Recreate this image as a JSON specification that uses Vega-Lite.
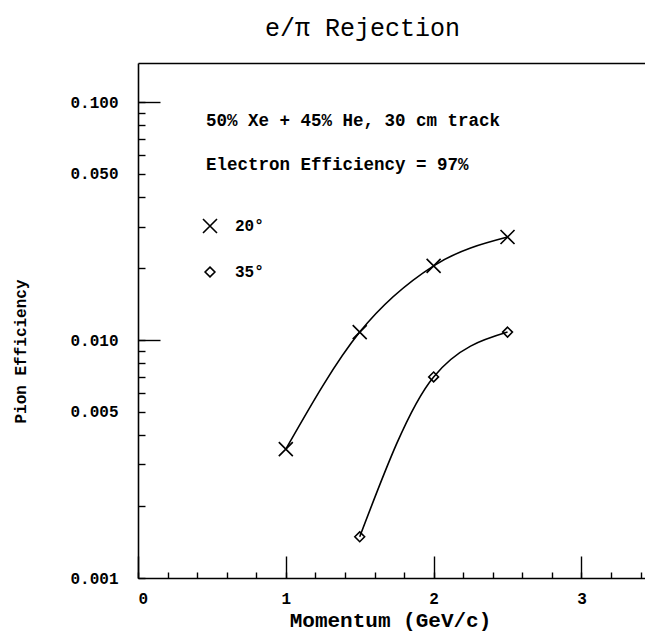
{
  "$schema": "https://vega.github.io/schema/vega-lite/v6.json",
  "width": 507,
  "height": 515,
  "autosize": {"type": "none"},
  "padding": {"left": 138, "top": 63, "right": 0, "bottom": 55},
  "title": {
    "text": "e/π Rejection",
    "font": "Liberation Mono",
    "fontSize": 25,
    "fontWeight": "normal",
    "color": "black",
    "anchor": "start",
    "frame": "group",
    "dx": 127,
    "baseline": "alphabetic",
    "offset": 2
  },
  "config": {
    "view": {"stroke": null},
    "font": "Liberation Mono",
    "axis": {
      "grid": false,
      "domainColor": "black",
      "domainWidth": 1.6,
      "tickColor": "black",
      "tickWidth": 1.4,
      "labelColor": "black",
      "titleColor": "black",
      "labelFont": "Liberation Mono",
      "titleFont": "Liberation Mono",
      "labelFontSize": 16,
      "labelFontWeight": "bold",
      "titleFontSize": 16,
      "titleFontWeight": "bold"
    }
  },
  "resolve": {"axis": {"x": "independent", "y": "independent"}},
  "layer": [
    {
      "data": {
        "values": [
          {"angle": "20°", "p": 1.0, "eff": 0.00348},
          {"angle": "20°", "p": 1.5, "eff": 0.0108},
          {"angle": "20°", "p": 2.0, "eff": 0.0205},
          {"angle": "20°", "p": 2.5, "eff": 0.0271},
          {"angle": "35°", "p": 1.5, "eff": 0.00149},
          {"angle": "35°", "p": 2.0, "eff": 0.0070},
          {"angle": "35°", "p": 2.5, "eff": 0.0108}
        ]
      },
      "mark": {"type": "line", "interpolate": "monotone", "color": "black", "strokeWidth": 1.6},
      "encoding": {
        "x": {
          "field": "p",
          "type": "quantitative",
          "scale": {"domain": [0, 3.43], "nice": false, "zero": false},
          "axis": {
            "orient": "bottom",
            "values": [0, 0.2, 0.4, 0.6, 0.8, 1, 1.2, 1.4, 1.6, 1.8, 2, 2.2, 2.4, 2.6, 2.8, 3, 3.2, 3.4],
            "tickSize": -6,
            "labelPadding": 18,
            "labelExpr": "datum.value % 1 == 0 ? format(datum.value, 'd') : ''",
            "title": "Momentum (GeV/c)",
            "titleFontSize": 21,
            "titleX": 252,
            "titleY": 42,
            "titleBaseline": "middle",
            "titleAlign": "center"
          }
        },
        "y": {
          "field": "eff",
          "type": "quantitative",
          "scale": {"type": "log", "domain": [0.001, 0.146], "nice": false},
          "axis": {
            "orient": "left",
            "values": [0.001, 0.002, 0.003, 0.004, 0.005, 0.006, 0.007, 0.008, 0.009, 0.01, 0.02, 0.03, 0.04, 0.05, 0.06, 0.07, 0.08, 0.09, 0.1],
            "tickSize": -7,
            "labelPadding": 27,
            "labelExpr": "indexof([0.1, 0.05, 0.01, 0.005, 0.001], datum.value) >= 0 ? format(datum.value, '.3f') : ''",
            "title": "Pion Efficiency",
            "titleX": -118,
            "titleY": 288,
            "titleAngle": -90,
            "titleBaseline": "middle",
            "titleAlign": "center"
          }
        },
        "detail": {"field": "angle"}
      }
    },
    {
      "data": {
        "values": [
          {"angle": "20°", "p": 1.0, "eff": 0.00348},
          {"angle": "20°", "p": 1.5, "eff": 0.0108},
          {"angle": "20°", "p": 2.0, "eff": 0.0205},
          {"angle": "20°", "p": 2.5, "eff": 0.0271},
          {"angle": "35°", "p": 1.5, "eff": 0.00149},
          {"angle": "35°", "p": 2.0, "eff": 0.0070},
          {"angle": "35°", "p": 2.5, "eff": 0.0108}
        ]
      },
      "mark": {"type": "point", "filled": false, "color": "black", "strokeWidth": 1.6, "size": 196, "opacity": 1},
      "encoding": {
        "x": {
          "field": "p",
          "type": "quantitative",
          "axis": {"orient": "bottom", "values": [0, 1, 2, 3], "tickSize": -22, "labels": false, "domain": false, "title": null}
        },
        "y": {
          "field": "eff",
          "type": "quantitative",
          "axis": {"orient": "left", "values": [0.01, 0.1], "tickSize": -22, "labels": false, "domain": false, "title": null}
        },
        "shape": {
          "field": "angle",
          "type": "nominal",
          "scale": {"domain": ["20°", "35°"], "range": ["M-1,-1L1,1M-1,1L1,-1", "M0,-0.7L0.7,0L0,0.7L-0.7,0Z"]},
          "legend": {
            "title": null,
            "orient": "none",
            "legendX": 64,
            "legendY": 155,
            "padding": 0,
            "rowPadding": 26,
            "symbolSize": 196,
            "symbolStrokeColor": "black",
            "symbolFillColor": "transparent",
            "symbolStrokeWidth": 1.6,
            "symbolOpacity": 1,
            "labelFont": "Liberation Mono",
            "labelFontSize": 16,
            "labelFontWeight": "bold",
            "labelColor": "black",
            "labelOffset": 17
          }
        }
      }
    },
    {
      "data": {"values": [{"label": "50% Xe + 45% He, 30 cm track"}]},
      "mark": {"type": "text", "align": "left", "baseline": "middle", "font": "Liberation Mono", "fontSize": 17.5, "fontWeight": "bold", "color": "black"},
      "encoding": {
        "x": {"datum": 0.46, "type": "quantitative", "axis": {"orient": "top", "ticks": false, "labels": false, "title": null, "domain": true}},
        "y": {"datum": 0.0832, "type": "quantitative", "axis": null},
        "text": {"field": "label"}
      }
    },
    {
      "data": {"values": [{"label": "Electron Efficiency = 97%"}]},
      "mark": {"type": "text", "align": "left", "baseline": "middle", "font": "Liberation Mono", "fontSize": 17.5, "fontWeight": "bold", "color": "black"},
      "encoding": {
        "x": {"datum": 0.46, "type": "quantitative", "axis": null},
        "y": {"datum": 0.0543, "type": "quantitative", "axis": null},
        "text": {"field": "label"}
      }
    }
  ]
}
